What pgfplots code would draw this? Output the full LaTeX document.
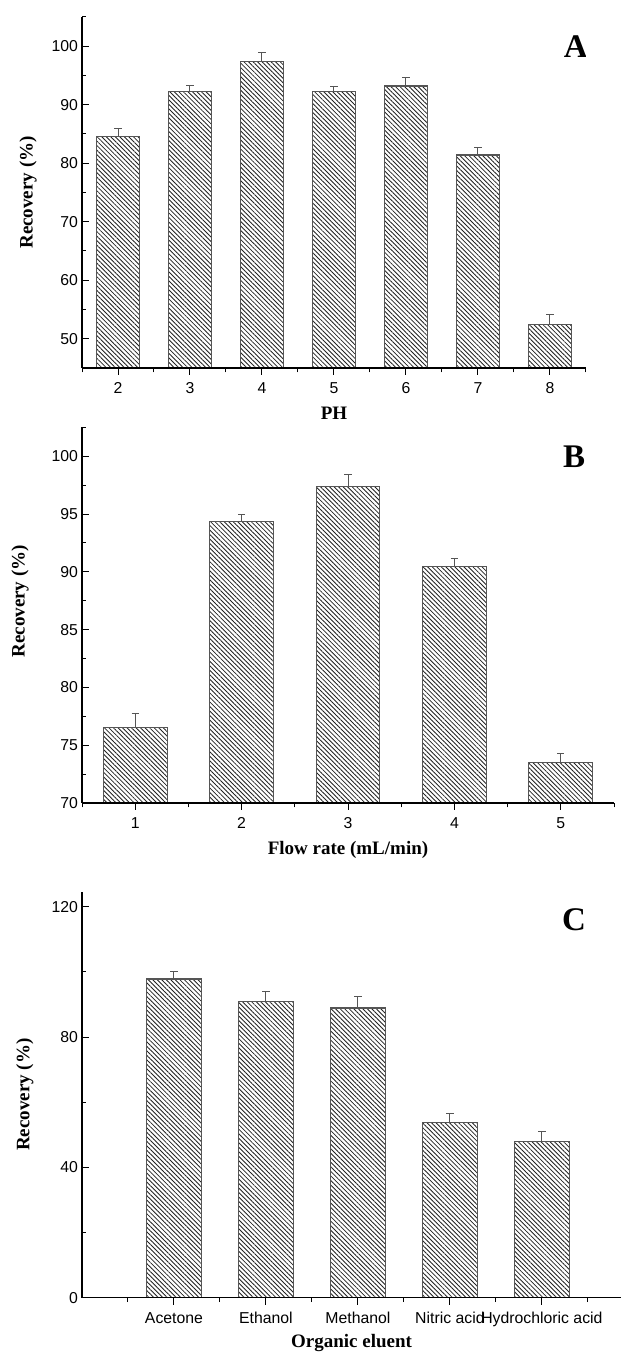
\documentclass[border=0pt]{standalone}
\usepackage{fontspec}
\setmainfont{Liberation Serif}
\setsansfont{Liberation Sans}
\usepackage{pgfplots}
\pgfplotsset{compat=1.18}
\usetikzlibrary{patterns.meta}

\definecolor{edge}{HTML}{555555}
\definecolor{hatch}{HTML}{222222}

\pgfplotsset{
  recbars/.style={
    scale only axis,
    anchor=south west,
    axis lines*=left,
    axis line style={line width=0.55pt, black},
    axis on top,
    tick align=inside,
    major tick length=3.5pt,
    minor tick length=2.2pt,
    every tick/.style={line width=0.5pt, black},
    ybar, bar width=0.6, bar shift=0pt,
    tick label style={font=\fontsize{7.9}{9}\selectfont\sffamily},
    xticklabel style={text height=1.5ex, text depth=0.25ex},
    xticklabel shift=-1pt,
    yticklabel shift=-1.5pt,
    /pgf/number format/assume math mode=true,
    label style={font=\fontsize{9.5}{11}\selectfont\bfseries},
    xtick=data,
    clip=true,
  },
  hbar/.style={
    draw=edge, line width=0.55pt,
    pattern={Lines[angle=-45,distance=1.6pt,line width=0.42pt]},
    pattern color=hatch,
    error bars/.cd, y dir=plus, y explicit,
    error bar style={line width=0.5pt, edge},
    error mark options={rotate=90, mark size=1.8pt, line width=0.5pt, edge},
  },
}

\begin{document}
\begin{tikzpicture}
\path[use as bounding box] (0,0) rectangle (310.5pt,676pt);

% A: pH
\begin{axis}[recbars,
  at={(41pt,492pt)}, width=252pt, height=175.5pt,
  xmin=1.5, xmax=8.5, ymin=45, ymax=105,
  ytick={50,60,...,100}, minor ytick={45,55,...,105},
  minor xtick={1.5,2.5,...,8.5},
  xlabel={PH}, ylabel={Recovery (\%)},
  xlabel style={at={(axis description cs:0.5,-0.128)}, anchor=center},
  ylabel style={at={(axis description cs:-0.107,0.5)}, anchor=center},
]
\addplot[hbar] coordinates {
  (2,84.6) +- (0,1.4)
  (3,92.2) +- (0,1.1)
  (4,97.4) +- (0,1.6)
  (5,92.3) +- (0,0.9)
  (6,93.2) +- (0,1.4)
  (7,81.4) +- (0,1.3)
  (8,52.5) +- (0,1.6)
};
\node at (rel axis cs:0.98,0.915) {\fontsize{16.5}{18}\selectfont\bfseries A};
\end{axis}

% B: flow rate
\begin{axis}[recbars,
  at={(41pt,274.5pt)}, width=266pt, height=187.8pt,
  xmin=0.5, xmax=5.5, ymin=70, ymax=102.5,
  ytick={70,75,...,100}, minor ytick={72.5,77.5,...,102.5},
  minor xtick={0.5,1.5,...,5.5},
  xlabel={Flow rate (mL/min)}, ylabel={Recovery (\%)},
  xlabel style={at={(axis description cs:0.5,-0.125)}, anchor=center},
  ylabel style={at={(axis description cs:-0.1165,0.537)}, anchor=center},
]
\addplot[hbar] coordinates {
  (1,76.5) +- (0,1.25)
  (2,94.35) +- (0,0.6)
  (3,97.4) +- (0,1.0)
  (4,90.5) +- (0,0.65)
  (5,73.5) +- (0,0.75)
};
\node at (rel axis cs:0.925,0.922) {\fontsize{16.5}{18}\selectfont\bfseries B};
\end{axis}

% C: organic eluent
\begin{axis}[recbars,
  at={(41pt,27.15pt)}, width=269.5pt, height=203pt,
  xmin=0, xmax=5.86, ymin=0, ymax=124.6,
  ytick={0,40,80,120}, minor ytick={20,60,100},
  minor xtick={0.5,1.5,...,5.5},
  xticklabels={Acetone,Ethanol,Methanol,Nitric acid,Hydrochloric acid},
  xlabel={Organic eluent}, ylabel={Recovery (\%)},
  xlabel style={at={(axis description cs:0.5,-0.112)}, anchor=center},
  ylabel style={at={(axis description cs:-0.106,0.5)}, anchor=center},
]
\addplot[hbar] coordinates {
  (1,97.8) +- (0,2.25)
  (2,90.8) +- (0,3.1)
  (3,88.9) +- (0,3.6)
  (4,53.8) +- (0,2.8)
  (5,47.9) +- (0,3.2)
};
\node at (rel axis cs:0.913,0.93) {\fontsize{16.5}{18}\selectfont\bfseries C};
\end{axis}
\end{tikzpicture}
\end{document}
